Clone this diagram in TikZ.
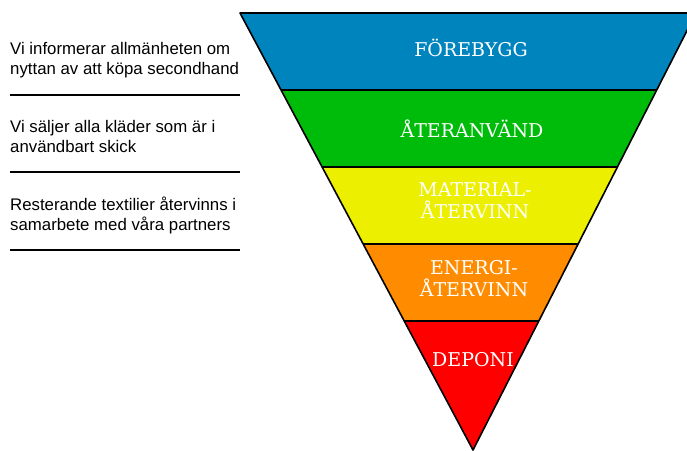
\documentclass[tikz,border=0pt]{standalone}
\usepackage{fontspec}
\setmainfont{Liberation Sans}
\newfontfamily\slab{DejaVu Serif}
\usetikzlibrary{calc}
\definecolor{cblue}{RGB}{0,132,190}
\definecolor{cgreen}{RGB}{0,188,10}
\definecolor{cyellow}{RGB}{236,240,0}
\definecolor{corange}{RGB}{255,140,0}
\definecolor{cred}{RGB}{255,0,0}
\tikzset{
  band/.style={draw=black, line width=1.6pt, line join=round},
  lbl/.style={text=white, font=\slab\fontsize{19}{22}\selectfont, align=center, anchor=base, inner sep=0pt},
  note/.style={font=\fontsize{16.8}{20}\selectfont, align=left, anchor=base west, inner sep=0pt},
  rule/.style={line width=1.6pt}
}
\begin{document}
\begin{tikzpicture}[x=1pt,y=-1pt]
\useasboundingbox (0,0) rectangle (687,450);
\begin{scope}
\clip (0,0) rectangle (687,450);
\coordinate (TL) at (240,13);
\coordinate (TR) at (696,13);
\coordinate (A) at (473,450);
\foreach \i/\t in {1/0.1762,2/0.3524,3/0.5286,4/0.7048}{
  \coordinate (L\i) at ($(TL)!\t!(A)$);
  \coordinate (R\i) at ($(TR)!\t!(A)$);
}
\fill[cblue] (TL) -- (TR) -- (R1) -- (L1) -- cycle;
\fill[cgreen] (L1) -- (R1) -- (R2) -- (L2) -- cycle;
\fill[cyellow] (L2) -- (R2) -- (R3) -- (L3) -- cycle;
\fill[corange] (L3) -- (R3) -- (R4) -- (L4) -- cycle;
\fill[cred] (L4) -- (R4) -- (A) -- cycle;
\draw[band] (TL) -- (TR) -- (A) -- cycle;
\foreach \i in {1,2,3,4}{ \draw[band] (L\i) -- (R\i); }
\end{scope}
\node[lbl] (l1) at (471,56) {FÖREBYGG};
\node[lbl] (l2) at (472,137) {ÅTERANVÄND};
\node[lbl] (l3) at (475,218) {MATERIAL-\\ÅTERVINN};
\node[lbl] (l4) at (474,296) {ENERGI-\\ÅTERVINN};
\node[lbl] (l5) at (473,366) {DEPONI};
\node[note] (n1) at (10,74) {Vi informerar allmänheten om\\nyttan av att köpa secondhand};
\node[note] (n2) at (10,152) {Vi säljer alla kläder som är i\\användbart skick};
\node[note] (n3) at (10,230) {Resterande textilier återvinns i\\samarbete med våra partners};
\draw[rule] (10,95) -- (240,95);
\draw[rule] (10,172) -- (240,172);
\draw[rule] (10,250) -- (240,250);
\end{tikzpicture}
\end{document}
